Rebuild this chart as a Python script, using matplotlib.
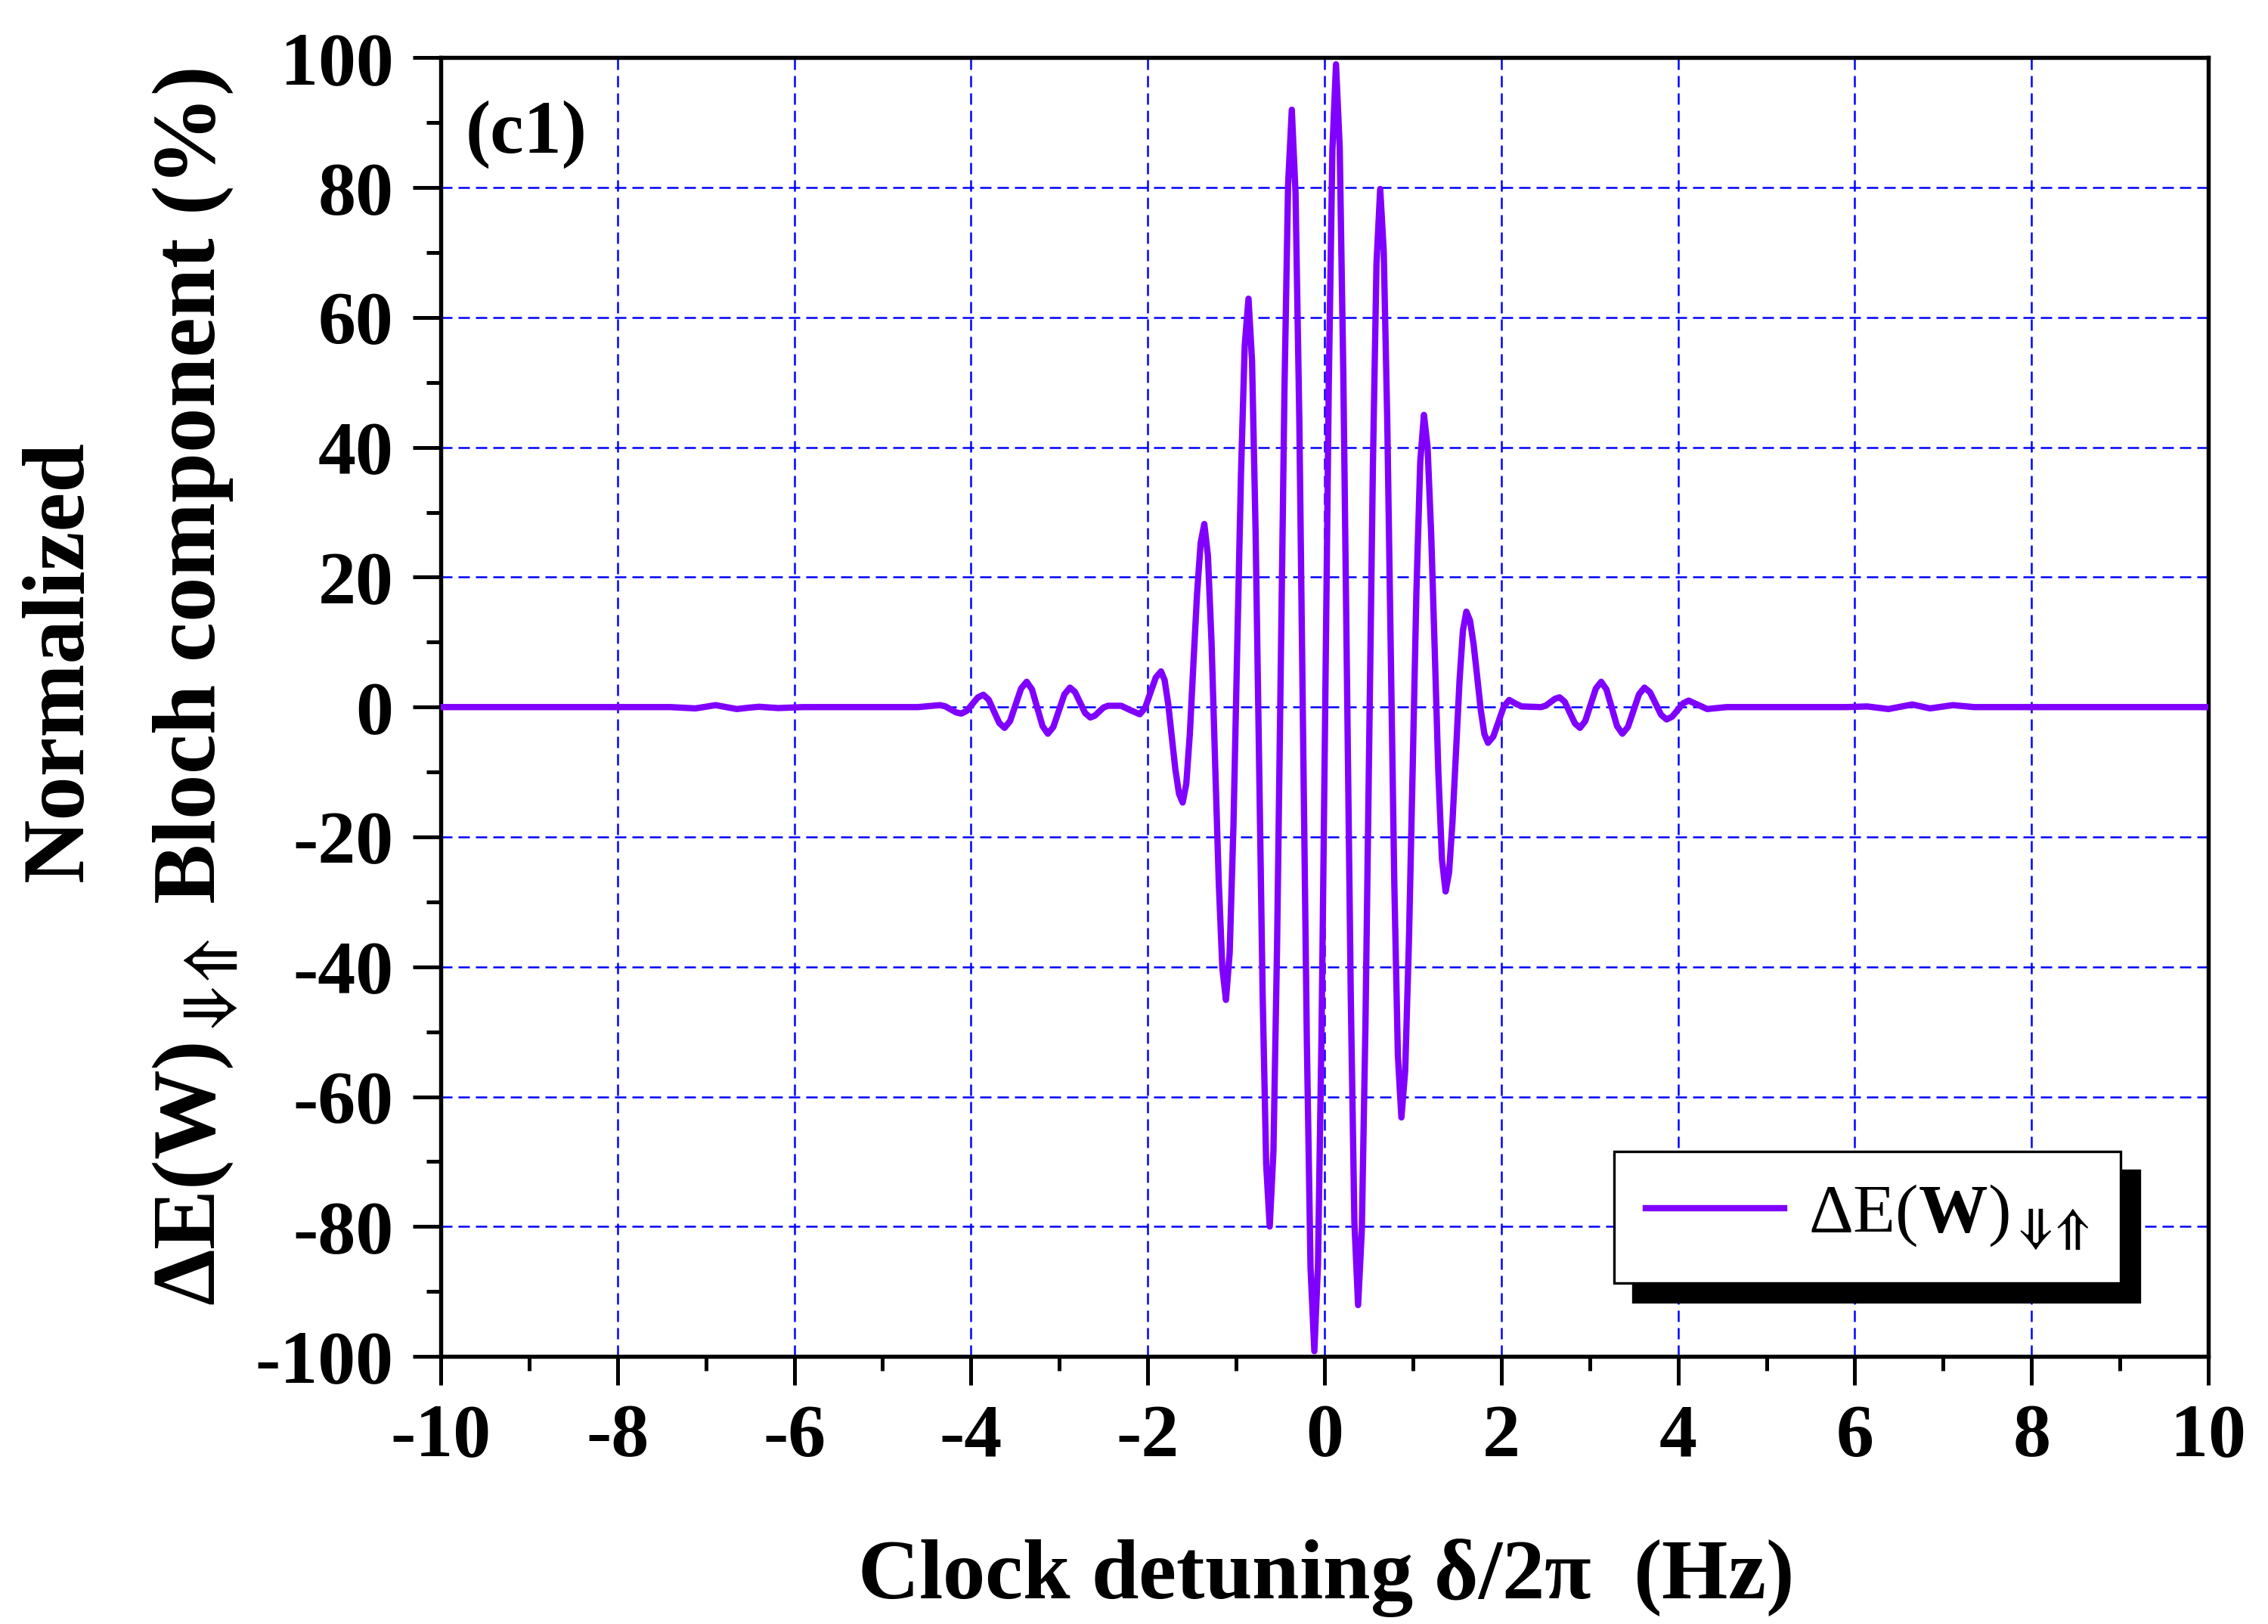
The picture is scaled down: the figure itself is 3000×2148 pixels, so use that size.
#!/usr/bin/env python3
# Normalized Bloch component vs clock detuning, panel (c1)

import matplotlib
matplotlib.use("Agg")
import matplotlib.pyplot as plt
from matplotlib.ticker import MultipleLocator

# =========================================================
# DATA
# =========================================================

# left tail + small wiggles
DETUNING_LEFT = [
    -10.0, -7.4, -7.12, -7.0, -6.89, -6.77, -6.65, -6.52, -6.4, -6.18, -5.9,
    -4.6, -4.35, -4.29, -4.23, -4.17, -4.11, -4.048, -3.985, -3.923, -3.86,
    -3.80, -3.74, -3.68, -3.62, -3.558, -3.495, -3.433, -3.37, -3.31, -3.25,
    -3.19, -3.13, -3.068, -3.005, -2.943, -2.88, -2.823, -2.765, -2.708,
    -2.65, -2.60, -2.55, -2.50, -2.45, -2.30, -2.20,
]
SIGNAL_LEFT = [
    0.0, 0.0, -0.2, 0.05, 0.3, 0.0, -0.3, -0.1, 0.05, -0.15, 0.0,
    0.0, 0.3, 0.11, -0.35, -0.81, -1.0, -0.58, 0.45, 1.48, 1.9,
    1.15, -0.65, -2.45, -3.2, -2.16, 0.35, 2.86, 3.9, 2.73, -0.1,
    -2.93, -4.1, -3.06, -0.55, 1.96, 3.0, 2.33, 0.7, -0.93,
    -1.6, -1.34, -0.7, -0.06, 0.2, 0.2, -0.45,
]

# central oscillation
DETUNING_CENTER = [
    -2.09, -2.03, -1.97, -1.91,
    -1.85, -1.809, -1.768, -1.728, -1.687, -1.646,
    -1.605, -1.564, -1.523, -1.483, -1.442, -1.401,
    -1.36, -1.319, -1.278, -1.238, -1.197, -1.156,
    -1.115, -1.073, -1.030, -0.988, -0.945, -0.903,
    -0.86, -0.82, -0.78, -0.74, -0.70, -0.66,
    -0.62, -0.578, -0.537, -0.495, -0.453, -0.412,
    -0.37, -0.328, -0.285, -0.243, -0.200, -0.158,
    -0.115, -0.074, -0.033, 0.008, 0.048, 0.089,
    0.13, 0.172, 0.213, 0.255, 0.297, 0.338,
    0.38, 0.422, 0.463, 0.505, 0.547, 0.588,
    0.63, 0.67, 0.71, 0.75, 0.79, 0.83,
    0.87, 0.913, 0.955, 0.998, 1.04, 1.083,
    1.125, 1.166, 1.207, 1.248, 1.288, 1.329,
    1.37, 1.409, 1.448, 1.488, 1.527, 1.566,
    1.605, 1.646, 1.687, 1.728, 1.768, 1.809,
    1.85, 1.91, 1.97, 2.03, 2.09,
]
SIGNAL_CENTER = [
    -1.1, -0.13, 2.2, 4.53,
    5.5, 4.15, 0.45, -4.6, -9.65, -13.35,
    -14.7, -11.83, -3.98, 6.75, 17.48, 25.33,
    28.2, 23.29, 9.88, -8.45, -26.78, -40.19,
    -45.1, -37.86, -18.1, 8.9, 35.9, 55.66,
    62.9, 53.33, 27.18, -8.55, -44.28, -70.43,
    -80.0, -68.48, -37.0, 6.0, 49.0, 80.48,
    92.0, 79.19, 44.2, -3.6, -51.4, -86.39,
    -99.2, -85.92, -49.65, -0.1, 49.45, 85.72,
    99.0, 86.2, 51.23, 3.45, -44.33, -79.3,
    -92.1, -80.58, -49.13, -6.15, 36.83, 68.28,
    79.8, 70.22, 44.05, 8.3, -27.45, -53.62,
    -63.2, -55.95, -36.15, -9.1, 17.95, 37.75,
    45.0, 40.08, 26.65, 8.3, -10.05, -23.48,
    -28.4, -25.51, -17.63, -6.85, 3.93, 11.81,
    14.7, 13.35, 9.65, 4.6, -0.45, -4.15,
    -5.5, -4.53, -2.2, 0.13, 1.1,
]

# right small wiggles + tail
DETUNING_RIGHT = [
    2.16, 2.23, 2.45, 2.503, 2.555, 2.608, 2.66, 2.718, 2.775, 2.833,
    2.89, 2.95, 3.01, 3.07, 3.13, 3.19, 3.25, 3.31, 3.37, 3.433, 3.495,
    3.558, 3.62, 3.683, 3.745, 3.808, 3.87, 3.933, 3.995, 4.058, 4.12,
    4.225, 4.33, 4.55, 5.9, 6.14, 6.26, 6.38, 6.515, 6.65, 6.75, 6.85,
    6.98, 7.11, 7.35, 10.0,
]
SIGNAL_RIGHT = [
    0.55, 0.1, 0.0, 0.22, 0.75, 1.28, 1.5, 0.81, -0.85, -2.51,
    -3.2, -2.16, 0.35, 2.86, 3.9, 2.73, -0.1, -2.93, -4.1, -3.06, -0.55,
    1.96, 3.0, 2.28, 0.55, -1.18, -1.9, -1.48, -0.45, 0.58, 1.0,
    0.35, -0.3, 0.0, 0.0, 0.1, -0.1, -0.3, 0.05, 0.4, 0.1, -0.2,
    0.05, 0.3, 0.0, 0.0,
]

DETUNING = DETUNING_LEFT + DETUNING_CENTER + DETUNING_RIGHT
SIGNAL = SIGNAL_LEFT + SIGNAL_CENTER + SIGNAL_RIGHT

X_TICKS = [-10, -8, -6, -4, -2, 0, 2, 4, 6, 8, 10]
Y_TICKS = [-100, -80, -60, -40, -20, 0, 20, 40, 60, 80, 100]

# =========================================================
# STYLE
# =========================================================

LINE_COLOR = "#8000FF"
GRID_COLOR = "#0000FF"
SERIF = "Liberation Serif"

plt.rcParams["font.family"] = [SERIF, "DejaVu Serif"]
plt.rcParams["font.weight"] = "bold"
plt.rcParams["axes.unicode_minus"] = False
plt.rcParams["mathtext.fontset"] = "custom"
plt.rcParams["mathtext.rm"] = SERIF + ":normal"
plt.rcParams["mathtext.bf"] = SERIF + ":bold"
plt.rcParams["mathtext.it"] = SERIF + ":italic:normal"
plt.rcParams["mathtext.fallback"] = "stix"

ARROWS = r"_{\Downarrow\!\!\Uparrow}"

# =========================================================
# PLOT
# =========================================================

fig = plt.figure(figsize=(10, 7.16), dpi=300)
ax = fig.add_axes([0.1943, 0.1648, 0.7794, 0.7996])

ax.plot(DETUNING, SIGNAL, color=LINE_COLOR, linewidth=2.0,
        label=r"$\Delta\mathrm{E(}\mathbf{W}\mathrm{)}" + ARROWS + "$",
        zorder=3)

ax.set_xlim(-10, 10)
ax.set_ylim(-100, 100)
ax.set_xticks(X_TICKS)
ax.set_yticks(Y_TICKS)
ax.xaxis.set_minor_locator(MultipleLocator(1))
ax.yaxis.set_minor_locator(MultipleLocator(10))

ax.grid(True, which="major", color=GRID_COLOR, linestyle=(0, (6.0, 3.2)),
        linewidth=0.6, zorder=1)

for side in ax.spines.values():
    side.set_linewidth(1.3)

ax.tick_params(which="major", direction="out", length=9, width=1.2,
               labelsize=24, pad=6, top=False, right=False)
ax.tick_params(which="minor", direction="out", length=4.5, width=1.2,
               top=False, right=False)
for lab in ax.get_xticklabels() + ax.get_yticklabels():
    lab.set_fontweight("bold")

# panel tag
ax.text(0.014, 0.941, "(c1)", transform=ax.transAxes, fontsize=24,
        fontweight="bold", ha="left", va="center")

# axis labels
fig.text(0.584, 0.0284, r"Clock detuning $\mathbf{\delta}$/2$\mathbf{\pi}$  (Hz)",
         fontsize=27, fontweight="bold", ha="center", va="center")
fig.text(0.0268, 0.593, "Normalized", rotation=90, fontsize=28,
         fontweight="bold", ha="center", va="center")
fig.text(0.086, 0.577,
         r"$\mathbf{\Delta E(W)}" + ARROWS + "$ Bloch component (%)",
         rotation=90, fontsize=28.5, fontweight="bold", ha="center", va="center")

# legend with hard black shadow
leg = ax.legend(loc="lower left", bbox_to_anchor=(0.664, 0.0565),
                borderaxespad=0, fontsize=22, handlelength=2.0,
                handletextpad=0.35, borderpad=0.45, fancybox=False,
                framealpha=1, edgecolor="black",
                shadow={"color": "black", "alpha": 1, "ox": 6, "oy": -6})
leg.get_frame().set_linewidth(0.8)

plt.savefig("out.png", dpi=300)
plt.close()
